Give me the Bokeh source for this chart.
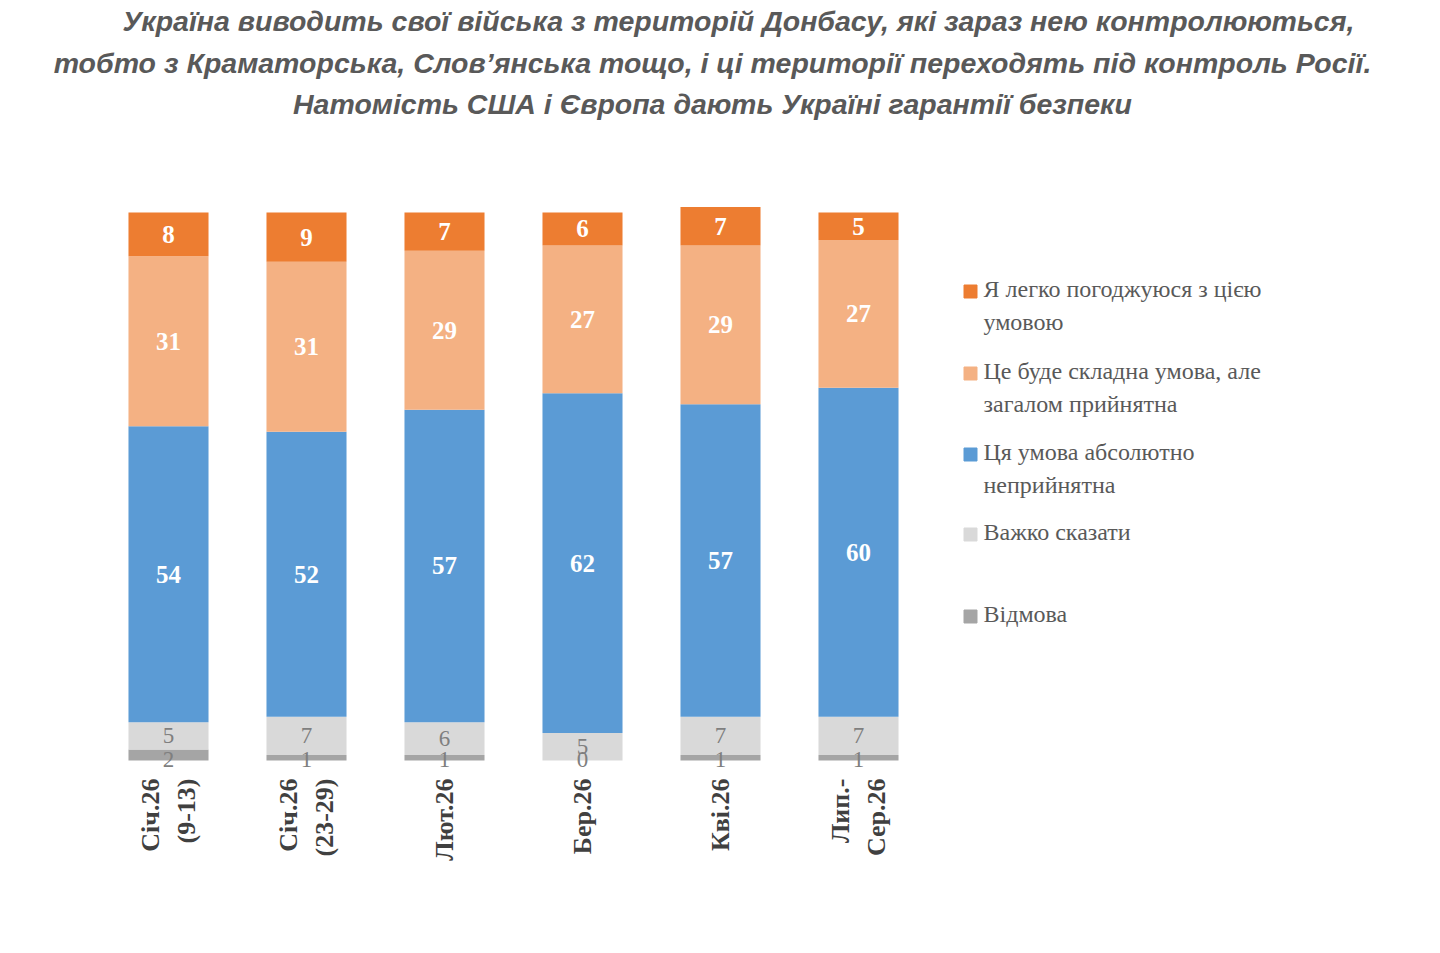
import numpy as np
from bokeh.plotting import figure
from bokeh.models import Range1d, ColumnDataSource
from bokeh.core.properties import value
from bokeh.embed import file_html
from bokeh.resources import INLINE

categories = ["Січ.26\n(9-13)", "Січ.26\n(23-29)", "Лют.26", "Бер.26", "Кві.26", "Лип.-\nСер.26"]
refusal = [2, 1, 1, 0, 1, 1]
hard_to_say = [5, 7, 6, 5, 7, 7]
unacceptable = [54, 52, 57, 62, 57, 60]
difficult = [31, 31, 29, 27, 29, 27]
agree = [8, 9, 7, 6, 7, 5]
series_names = ["Я легко погоджуюся з цією\nумовою", "Це буде складна умова, але\nзагалом прийнятна",
                "Ця умова абсолютно\nнеприйнятна", "Важко сказати", "Відмова"]
title_lines = ["Україна виводить свої війська з територій Донбасу, які зараз нею контролюються,",
               "тобто з Краматорська, Слов’янська тощо, і ці території переходять під контроль Росії.",
               "Натомість США і Європа дають Україні гарантії безпеки"]

C_AGREE, C_DIFF, C_UNACC, C_HARD, C_REF = "#ED7D31", "#F4B183", "#5B9BD5", "#D9D9D9", "#A5A5A5"

W, H = 1424, 937
PXX, PXY = 138.0, 5.48
X0, Y0 = 168, 760
def dx(px): return (px - X0) / PXX
def dy(py): return (Y0 - py) / PXY

p = figure(width=W, height=H, output_backend="svg", toolbar_location=None,
           x_range=Range1d(dx(0), dx(W)), y_range=Range1d(dy(H), dy(0)),
           min_border=0, outline_line_color=None, background_fill_color="white")
p.axis.visible = False
p.grid.visible = False

x = list(range(len(categories)))
src = ColumnDataSource(dict(x=x, ref=refusal, hard=hard_to_say, un=unacceptable, dif=difficult, ag=agree))
p.vbar_stack(["ref", "hard", "un", "dif", "ag"], x="x", width=0.58, source=src,
             color=[C_REF, C_HARD, C_UNACC, C_DIFF, C_AGREE], line_color=None)

serif = value("Liberation Serif")
stack = np.vstack([refusal, hard_to_say, unacceptable, difficult, agree]).astype(float)
cum = np.cumsum(stack, axis=0)
mids = cum - stack / 2
for row in (2, 3, 4):
    p.text(x=x, y=mids[row], text=[str(v) for v in stack[row].astype(int)], text_color="white",
           text_font=serif, text_font_style="bold", text_font_size="25px",
           text_align="center", text_baseline="middle")
p.text(x=x, y=mids[1], text=[str(v) for v in hard_to_say], text_color="#7f7f7f",
       text_font=serif, text_font_size="23px", text_align="center", text_baseline="middle")
p.text(x=x, y=[0.1] * len(x), text=[str(v) for v in refusal], text_color="#7f7f7f",
       text_font=serif, text_font_size="23px", text_align="center", text_baseline="middle")

p.text(x=x, y=[dy(778)] * len(x), text=categories, angle=np.pi / 2, text_color="#404040",
       text_font=serif, text_font_style="bold", text_font_size="26px",
       text_align="right", text_baseline="middle", text_line_height=1.25)

p.text(x=[dx(738), dx(712), dx(712)], y=[dy(20), dy(62), dy(103)], text=title_lines,
       text_color="#595959", text_font=value("Liberation Sans"), text_font_style="bold italic",
       text_font_size="28.5px", text_align="center", text_baseline="middle")

leg_y = [291, 373, 454, 534, 616]
p.rect(x=[dx(970)] * 5, y=[dy(v) for v in leg_y], width=13 / PXX, height=13 / PXY,
       color=[C_AGREE, C_DIFF, C_UNACC, C_HARD, C_REF])
p.text(x=[dx(983)] * 5, y=[dy(v - 16) for v in leg_y], text=series_names, text_color="#595959",
       text_font=serif, text_font_size="24px", text_align="left", text_baseline="top",
       text_line_height=1.3)

open("out.html", "w").write(file_html(p, INLINE))
